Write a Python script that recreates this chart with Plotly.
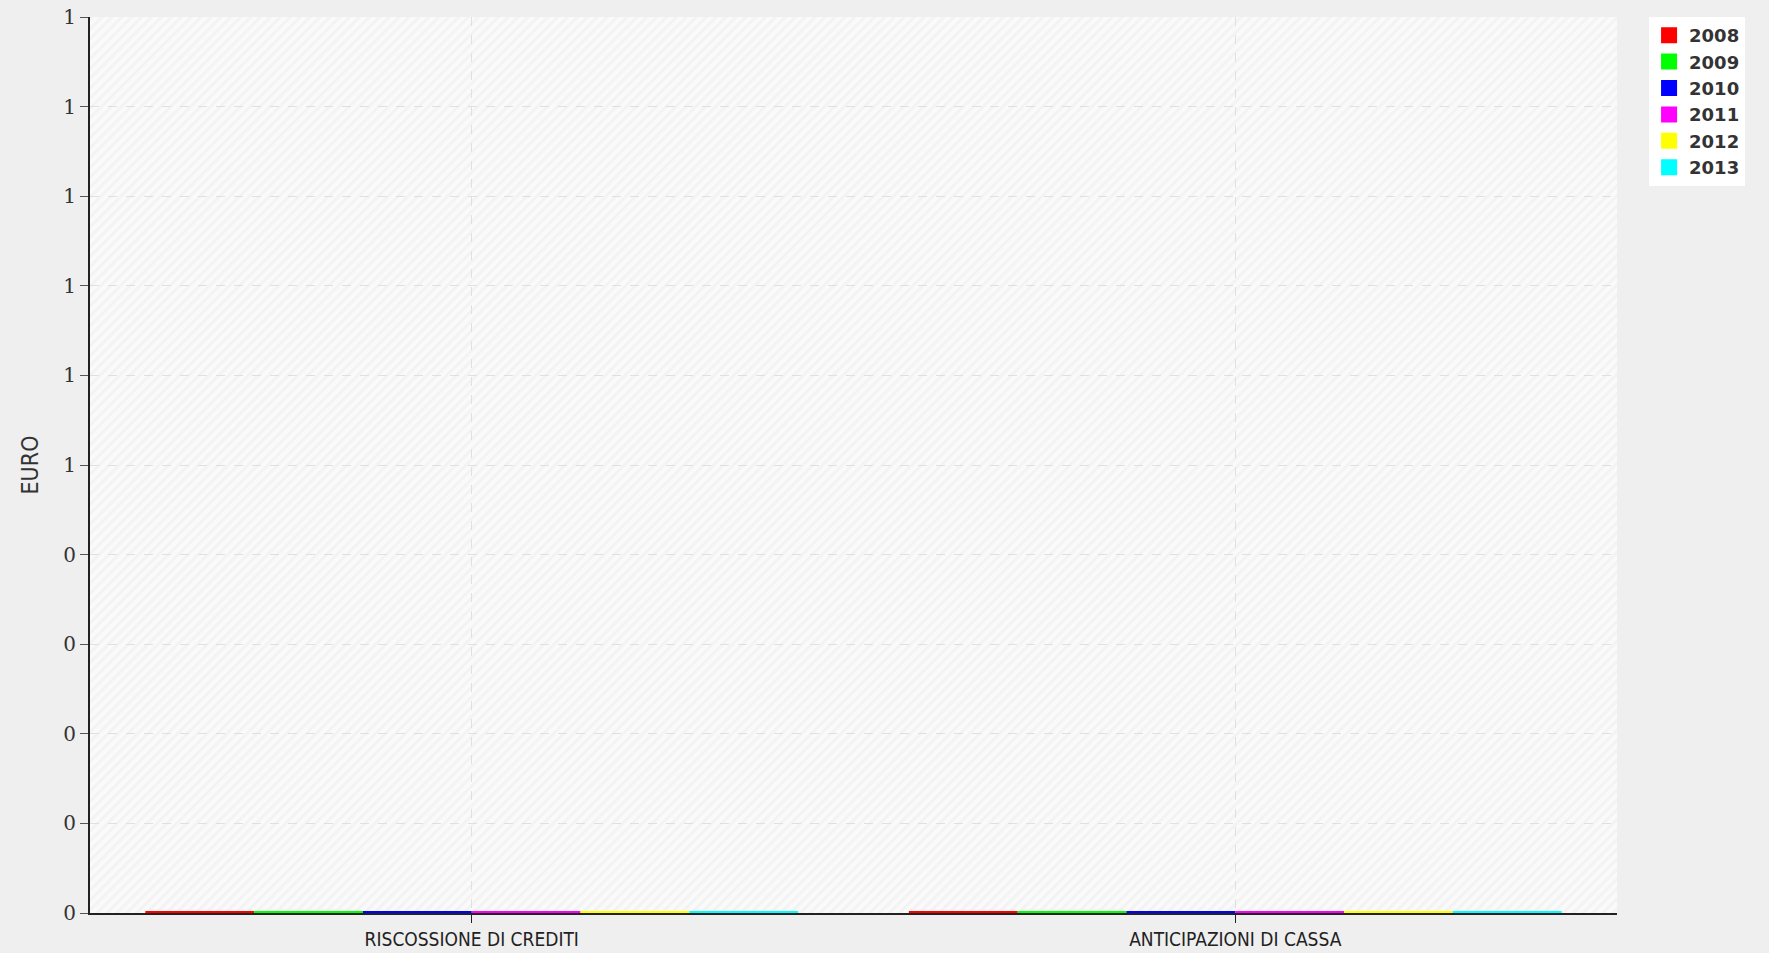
import base64
import plotly.graph_objects as go

categories = ["RISCOSSIONE DI CREDITI", "ANTICIPAZIONI DI CASSA"]
years = ["2008", "2009", "2010", "2011", "2012", "2013"]
values = {
    "2008": [0, 0],
    "2009": [0, 0],
    "2010": [0, 0],
    "2011": [0, 0],
    "2012": [0, 0],
    "2013": [0, 0],
}
colors = ["#ff0000", "#00ff00", "#0000ff", "#ff00ff", "#ffff00", "#00ffff"]
y_tickvals = [0, 0.1, 0.2, 0.3, 0.4, 0.5, 0.6, 0.7, 0.8, 0.9, 1.0]
y_ticktext = ["0", "0", "0", "0", "0", "1", "1", "1", "1", "1", "1"]

# faint diagonal hatching for the plot background
svg = (
    '<svg xmlns="http://www.w3.org/2000/svg" width="1526" height="896">'
    '<defs><pattern id="p" width="7" height="7" patternUnits="userSpaceOnUse" '
    'patternTransform="rotate(-45)">'
    '<rect width="7" height="7" fill="#fafafa"/>'
    '<rect width="7" height="3" fill="#f3f3f3"/></pattern></defs>'
    '<rect width="1526" height="896" fill="url(#p)"/></svg>'
)
svg_uri = "data:image/svg+xml;base64," + base64.b64encode(svg.encode()).decode()

fig = go.Figure()
for y, c in zip(years, colors):
    fig.add_trace(go.Bar(
        x=categories, y=values[y], name=y, cliponaxis=False,
        marker=dict(color=c, line=dict(color=c, width=4)),
    ))

fig.update_layout(
    width=1769, height=953,
    paper_bgcolor="#efefef",
    plot_bgcolor="#fafafa",
    barmode="group", bargap=0.145, bargroupgap=0,
    margin=dict(l=90, r=152, t=17, b=40, autoexpand=False),
    font=dict(family="DejaVu Sans", color="#222222", size=14),
    legend=dict(
        x=1.021, xanchor="left", y=1.0, yanchor="top",
        bgcolor="#ffffff", borderwidth=0,
        font=dict(family="DejaVu Sans", size=18, color="#333333", weight="bold"),
        itemwidth=30, tracegroupgap=0,
    ),
    showlegend=True,
    images=[dict(source=svg_uri, xref="paper", yref="paper", x=0, y=1,
                 sizex=1, sizey=1, sizing="stretch", layer="below",
                 xanchor="left", yanchor="top")],
)
fig.update_yaxes(
    range=[0, 1.0], tickvals=y_tickvals, ticktext=y_ticktext,
    showline=True, linecolor="#222222", linewidth=2,
    ticks="outside", ticklen=8, tickcolor="#555555",
    showgrid=True, gridcolor="#e0e0e0", griddash="dash", gridwidth=1,
    zeroline=False, automargin=False,
    title=dict(text="EURO", standoff=18,
               font=dict(size=23, family="DejaVu Sans Condensed", color="#333333")),
    tickfont=dict(size=20, family="DejaVu Serif", color="#333333"),
)
fig.update_xaxes(
    showline=True, linecolor="#222222", linewidth=2,
    ticks="outside", ticklen=8, tickcolor="#222222",
    showgrid=True, gridcolor="#e0e0e0", griddash="dash", automargin=False,
    tickfont=dict(size=19, family="DejaVu Sans Condensed", color="#222222"),
)
fig.write_html(
    "out.html",
    config={"displayModeBar": False},
    post_script="document.body.style.margin='0';document.body.style.overflow='hidden';",
)
